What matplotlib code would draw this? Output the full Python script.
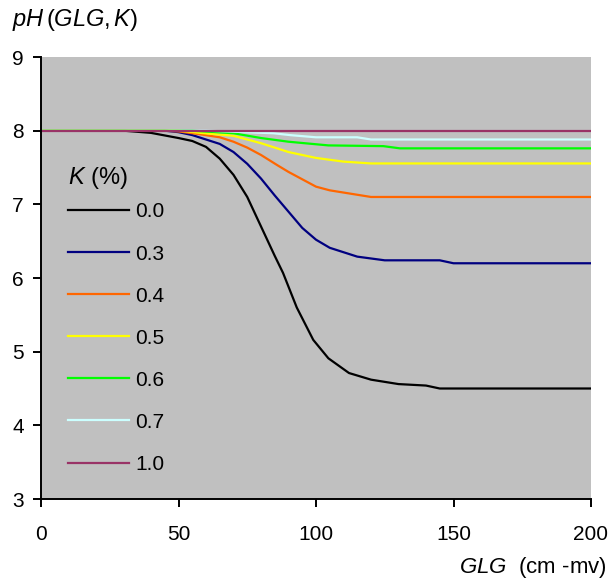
import matplotlib
matplotlib.use("Agg")
import matplotlib.pyplot as plt

plt.rcParams['font.family'] = ['Liberation Sans', 'DejaVu Sans']
plt.rcParams['mathtext.fontset'] = 'custom'
plt.rcParams['mathtext.rm'] = 'Liberation Sans'
plt.rcParams['mathtext.it'] = 'Liberation Sans:italic'

# K = 0.0 %
glg_k00 = [0, 30, 40, 50, 55, 60, 65, 70, 75, 80, 85, 88, 93, 99, 104.5, 112, 120, 130, 140, 145, 200]
ph_k00 = [8.0, 8.0, 7.97, 7.9, 7.86, 7.78, 7.62, 7.4, 7.1, 6.7, 6.3, 6.07, 5.6, 5.16, 4.91, 4.71, 4.62, 4.56, 4.54, 4.5, 4.5]
# K = 0.3 %
glg_k03 = [0, 45, 50, 55, 60, 65, 70, 75, 80, 85, 90, 95, 100, 105, 115, 125, 145, 150, 200]
ph_k03 = [8.0, 8.0, 7.98, 7.94, 7.88, 7.82, 7.71, 7.55, 7.35, 7.12, 6.9, 6.68, 6.52, 6.41, 6.29, 6.24, 6.24, 6.2, 6.2]
# K = 0.4 %
glg_k04 = [0, 45, 50, 58, 65, 70, 75, 80, 86, 90, 95, 100, 105, 120, 200]
ph_k04 = [8.0, 8.0, 7.99, 7.95, 7.91, 7.85, 7.77, 7.67, 7.53, 7.44, 7.34, 7.24, 7.19, 7.1, 7.1]
# K = 0.5 %
glg_k05 = [0, 50, 58, 70, 80, 90, 100, 110, 120, 200]
ph_k05 = [8.0, 8.0, 7.97, 7.93, 7.83, 7.71, 7.63, 7.58, 7.555, 7.555]
# K = 0.6 %
glg_k06 = [0, 55, 70, 80, 90, 104.5, 124.5, 130.5, 200]
ph_k06 = [8.0, 8.0, 7.965, 7.9, 7.85, 7.8, 7.79, 7.76, 7.76]
# K = 0.7 %
glg_k07 = [0, 60, 84.5, 90.5, 100, 115, 120, 200]
ph_k07 = [8.0, 8.0, 7.965, 7.94, 7.91, 7.91, 7.88, 7.88]
# K = 1.0 %
glg_k10 = [0, 200]
ph_k10 = [8.0, 8.0]

series = [
    ('0.0', glg_k00, ph_k00, '#000000'),
    ('0.3', glg_k03, ph_k03, '#000080'),
    ('0.4', glg_k04, ph_k04, '#FF6600'),
    ('0.5', glg_k05, ph_k05, '#FFFF00'),
    ('0.6', glg_k06, ph_k06, '#00FF00'),
    ('0.7', glg_k07, ph_k07, '#CCFFFF'),
    ('1.0', glg_k10, ph_k10, '#993366'),
]

W, H = 613, 581
fig = plt.figure(figsize=(W / 100, H / 100), dpi=100)
ax = fig.add_axes([41 / W, 1 - 499 / H, (591 - 41) / W, (499 - 57) / H])
ax.set_facecolor('#C0C0C0')

for label, x, y, c in series:
    ax.plot(x, y, color=c, lw=1.6, label=label)

ax.set_xlim(0, 200)
ax.set_ylim(3, 9)
ax.set_xticks([0, 50, 100, 150, 200])
ax.set_yticks([3, 4, 5, 6, 7, 8, 9])
for s in ['top', 'right']:
    ax.spines[s].set_visible(False)
for s in ['left', 'bottom']:
    ax.spines[s].set_linewidth(1.4)
ax.tick_params(axis='both', labelsize=15, width=1.4, length=5.5, direction='out')
ax.tick_params(axis='y', pad=7)
ax.tick_params(axis='x', pad=13)

fig.text(12 / W, 1 - 20 / H, r'$pH\,\mathrm{(}GLG{,}\,K\mathrm{)}$', fontsize=17,
         ha='left', va='center')
fig.text(607 / W, 1 - 567 / H, r'$GLG$  (cm -mv)', fontsize=16,
         ha='right', va='center')

leg = ax.legend(title=r'$K$ (%)', loc='upper left', bbox_to_anchor=(51 / W, 1 - 148 / H),
                bbox_transform=fig.transFigure, frameon=False, fontsize=15,
                title_fontsize=17, handlelength=2.93, handletextpad=0.3,
                labelspacing=1.107, borderpad=0.3)
leg._legend_box.align = 'left'
leg._legend_box.sep = 8.5

fig.savefig('out.png', dpi=100)
